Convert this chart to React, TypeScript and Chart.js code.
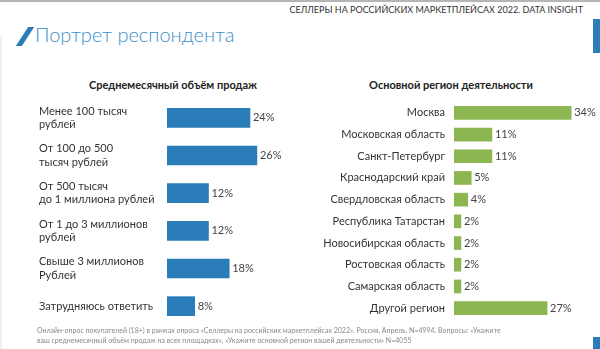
import React, { useEffect, useRef } from "react";
import { Chart, registerables } from "chart.js";

Chart.register(...registerables);

const salesCategories: (string | string[])[] = [
  ["Менее 100 тысяч", "рублей"],
  ["От 100 до 500", "тысяч рублей"],
  ["От 500 тысяч", "до 1 миллиона рублей"],
  ["От 1 до 3 миллионов", "рублей"],
  ["Свыше 3 миллионов", "Рублей"],
  "Затрудняюсь ответить",
];
const salesValues = [24, 26, 12, 12, 18, 8];

const regionCategories = [
  "Москва",
  "Московская область",
  "Санкт-Петербург",
  "Краснодарский край",
  "Свердловская область",
  "Республика Татарстан",
  "Новосибирская область",
  "Ростовская область",
  "Самарская область",
  "Другой регион",
];
const regionValues = [34, 11, 11, 5, 4, 2, 2, 2, 2, 27];

const FONT = "Lato, 'Open Sans', sans-serif";

const valueLabels = {
  id: "valueLabels",
  afterDatasetsDraw(chart: any) {
    const ctx = chart.ctx;
    const meta = chart.getDatasetMeta(0);
    const data = chart.data.datasets[0].data;
    ctx.save();
    ctx.font = `11px ${FONT}`;
    ctx.fillStyle = "#444";
    ctx.textBaseline = "middle";
    ctx.textAlign = "left";
    meta.data.forEach((bar: any, i: number) => {
      ctx.fillText(`${data[i]}%`, bar.x + 3, bar.y);
    });
    ctx.restore();
  },
};

function makeChart(
  canvas: HTMLCanvasElement,
  labels: (string | string[])[],
  values: number[],
  color: string,
  opts: { padding: any; axisWidth: number; crossAlign: string; tickPad: number; max: number; thickness: number }
) {
  return new Chart(canvas, {
    type: "bar",
    data: {
      labels,
      datasets: [
        {
          data: values,
          backgroundColor: color,
          borderWidth: 0,
          barThickness: opts.thickness,
        },
      ],
    },
    options: {
      indexAxis: "y",
      responsive: false,
      animation: false,
      devicePixelRatio: 1,
      layout: { padding: opts.padding },
      plugins: { legend: { display: false }, tooltip: { enabled: false }, title: { display: false } },
      scales: {
        x: { display: false, min: 0, max: opts.max },
        y: {
          grid: { display: false, drawTicks: false },
          border: { display: false },
          afterFit: (scale: any) => {
            scale.width = opts.axisWidth;
          },
          ticks: {
            crossAlign: opts.crossAlign as any,
            padding: opts.tickPad,
            color: "#333",
            font: { family: FONT, size: 11, lineHeight: 1.2 },
            autoSkip: false,
          },
        },
      },
    } as any,
    plugins: [valueLabels],
  });
}

export default function App() {
  const leftRef = useRef<HTMLCanvasElement>(null);
  const rightRef = useRef<HTMLCanvasElement>(null);

  useEffect(() => {
    const c1 = makeChart(leftRef.current!, salesCategories, salesValues, "#2a7db8", {
      padding: { left: 39, top: 99, bottom: 24, right: 12 },
      axisWidth: 128,
      crossAlign: "far",
      tickPad: 3,
      max: 35,
      thickness: 19,
    });
    const c2 = makeChart(rightRef.current!, regionCategories, regionValues, "#8cb651", {
      padding: { left: 0, top: 102, bottom: 30, right: 15 },
      axisWidth: 154,
      crossAlign: "near",
      tickPad: 9,
      max: 38,
      thickness: 13,
    });
    return () => {
      c1.destroy();
      c2.destroy();
    };
  }, []);

  return (
    <div
      style={{
        position: "fixed",
        left: 0,
        top: 0,
        width: 600,
        height: 349,
        background: "#fff",
        overflow: "hidden",
        fontFamily: FONT,
      }}
    >
      <div style={{ position: "absolute", left: 0, top: 0, width: 600, height: 2, background: "#b5b5b5" }} />
      <div style={{ position: "absolute", left: 0, top: 36, width: 2, height: 313, background: "#f0f0f0" }} />
      <div style={{ position: "absolute", left: 593, top: 19, width: 7, height: 34, background: "#2a7db8" }} />
      <div style={{ position: "absolute", left: 593, top: 337, width: 7, height: 12, background: "#2a7db8" }} />
      <div
        style={{
          position: "absolute",
          right: 17,
          top: 4,
          fontSize: 9,
          color: "#333",
          whiteSpace: "nowrap",
        }}
      >
        СЕЛЛЕРЫ НА РОССИЙСКИХ МАРКЕТПЛЕЙСАХ 2022. DATA INSIGHT
      </div>
      <div
        style={{
          position: "absolute",
          left: 22,
          top: 27,
          width: 6,
          height: 19,
          background: "#2a7db8",
          transform: "skewX(-33deg)",
        }}
      />
      <div
        style={{
          position: "absolute",
          left: 35,
          top: 22,
          fontSize: 20,
          fontWeight: 300,
          color: "#3b8fcb",
          whiteSpace: "nowrap",
        }}
      >
        Портрет респондента
      </div>
      <div
        style={{
          position: "absolute",
          left: 73,
          width: 200,
          top: 78,
          textAlign: "center",
          fontSize: 11,
          fontWeight: 700,
          color: "#222",
          whiteSpace: "nowrap",
        }}
      >
        Среднемесячный объём продаж
      </div>
      <div
        style={{
          position: "absolute",
          left: 351,
          width: 200,
          top: 78,
          textAlign: "center",
          fontSize: 11,
          fontWeight: 700,
          color: "#222",
          whiteSpace: "nowrap",
        }}
      >
        Основной регион деятельности
      </div>
      <canvas
        ref={leftRef}
        width={300}
        height={349}
        style={{ position: "absolute", left: 0, top: 0, width: 300, height: 349 }}
      />
      <canvas
        ref={rightRef}
        width={300}
        height={349}
        style={{ position: "absolute", left: 300, top: 0, width: 300, height: 349 }}
      />
      <div
        style={{
          position: "absolute",
          left: 37,
          top: 326,
          fontSize: 7,
          lineHeight: "9.5px",
          color: "#888",
          whiteSpace: "nowrap",
        }}
      >
        Онлайн-опрос покупателей (18+) в рамках опроса «Селлеры на российских маркетплейсах 2022». Россия, Апрель. N=4994. Вопросы: «Укажите
        <br />
        ваш  среднемесячный объём продаж на всех площадках», «Укажите основной регион вашей деятельности» N=4055
      </div>
    </div>
  );
}
